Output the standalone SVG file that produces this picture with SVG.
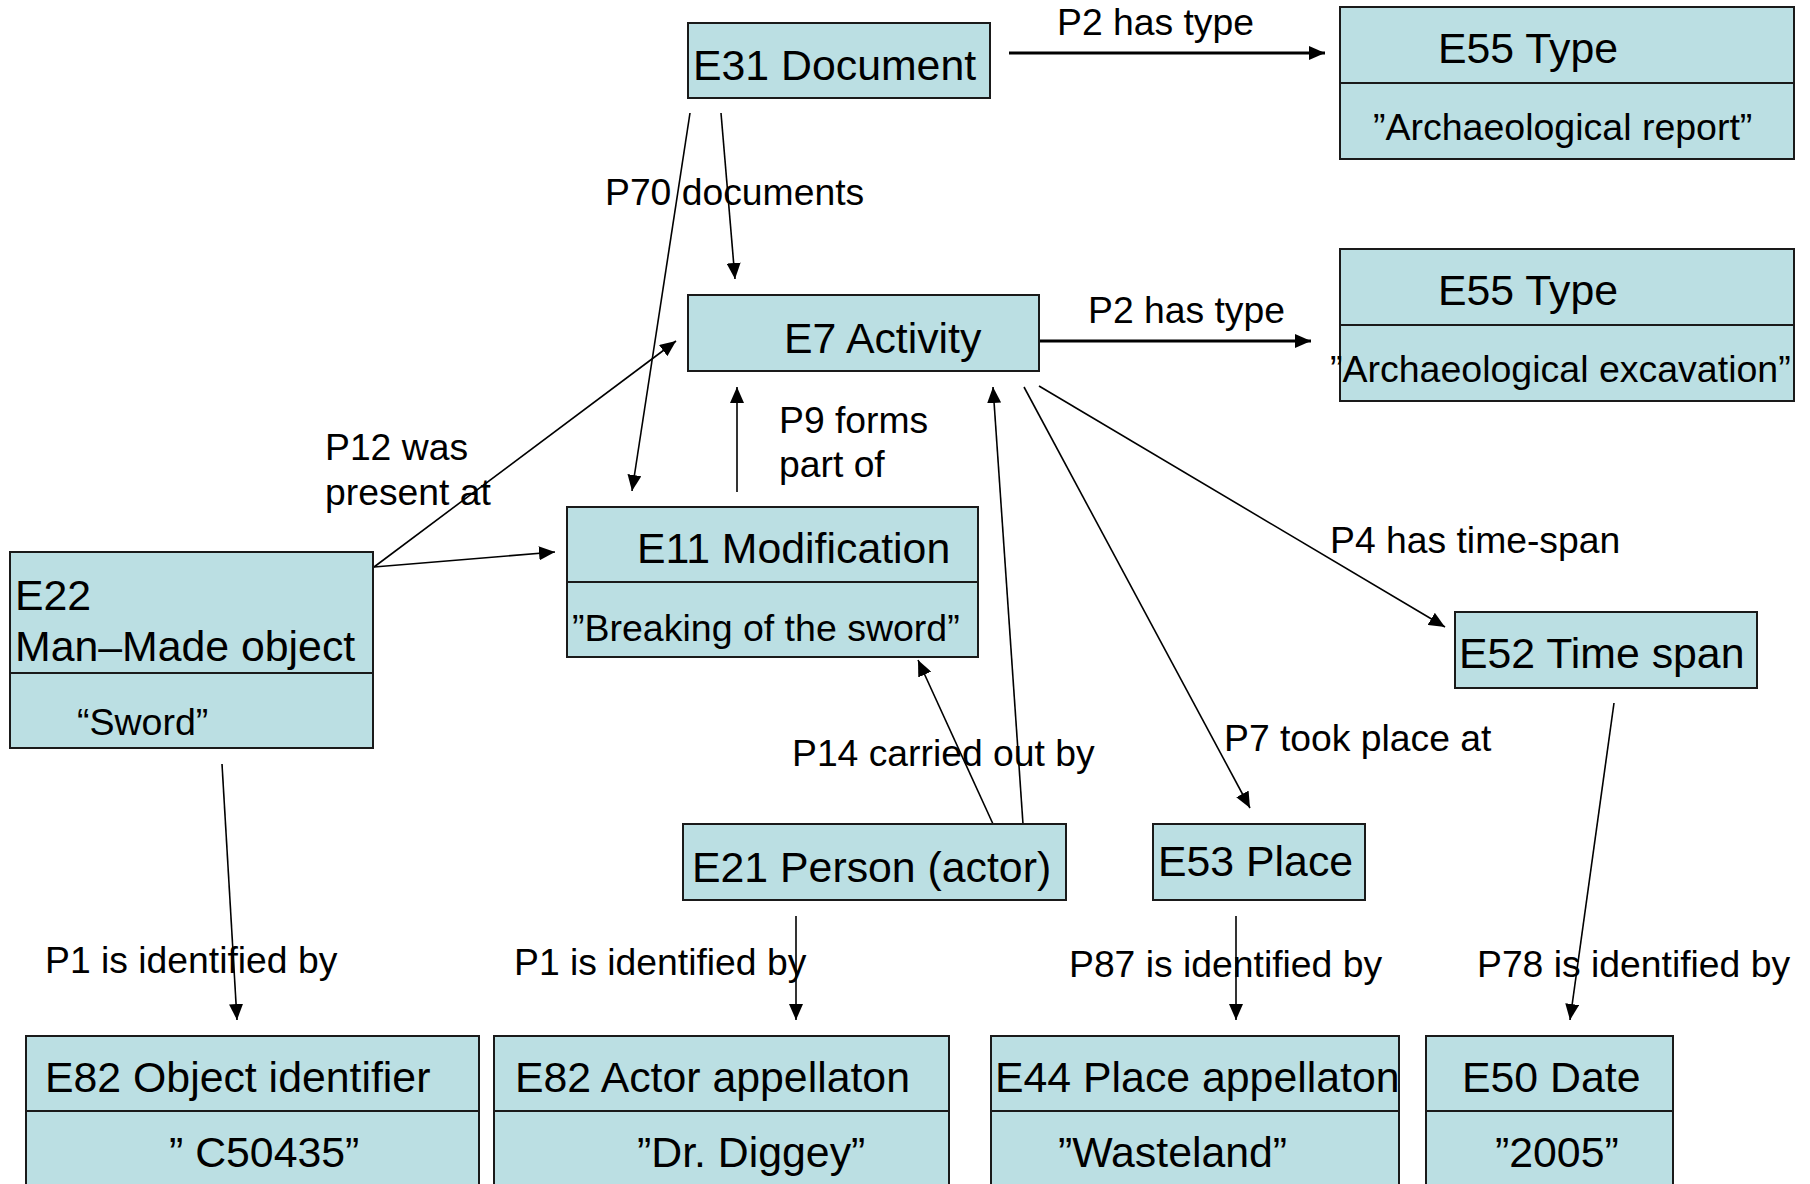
<svg xmlns="http://www.w3.org/2000/svg" width="1810" height="1184" viewBox="0 0 1810 1184">
  <style>
    .box { fill: #BBDFE3; stroke: #1a1a1a; stroke-width: 2; }
    .div { stroke: #1a1a1a; stroke-width: 2; }
    .t { font-family: "Liberation Sans", Arial, sans-serif; font-size: 42.8px; fill: #000; }
    .v { font-family: "Liberation Sans", Arial, sans-serif; font-size: 37.5px; fill: #000; }
    .lbl { font-family: "Liberation Sans", Arial, sans-serif; font-size: 37.3px; fill: #000; }
    .edge { stroke: #000; stroke-width: 1.6; fill: none; marker-end: url(#arrow); }
    .edge.thick { stroke-width: 3; }
  </style>
  <defs>
    <marker id="arrow" markerUnits="userSpaceOnUse" markerWidth="16" markerHeight="14" refX="16" refY="7" orient="auto">
      <path d="M0,0 L16,7 L0,14 z" fill="#000"/>
    </marker>
  </defs>

  <rect width="1810" height="1184" fill="#fff"/>

  <!-- connectors -->
  <g id="connectors">
    <line class="edge thick" x1="1009" y1="53" x2="1325" y2="53"/>
    <line class="edge thick" x1="1039" y1="341" x2="1311" y2="341"/>
    <line class="edge" x1="690" y1="113" x2="632" y2="491"/>
    <line class="edge" x1="721" y1="113" x2="735" y2="279"/>
    <line class="edge" x1="737" y1="492" x2="737" y2="387"/>
    <line class="edge" x1="374" y1="567" x2="676" y2="341"/>
    <line class="edge" x1="374" y1="567" x2="555" y2="552"/>
    <line class="edge" x1="993" y1="824" x2="918" y2="660"/>
    <line class="edge" x1="1023" y1="824" x2="993" y2="387"/>
    <line class="edge" x1="1024" y1="387" x2="1250" y2="808"/>
    <line class="edge" x1="1039" y1="386" x2="1445" y2="627"/>
    <line class="edge" x1="222" y1="764" x2="237" y2="1020"/>
    <line class="edge" x1="796" y1="916" x2="796" y2="1020"/>
    <line class="edge" x1="1236" y1="916" x2="1236" y2="1020"/>
    <line class="edge" x1="1614" y1="703" x2="1570" y2="1020"/>

    <text class="lbl" x="1057" y="35">P2 has type</text>
    <text class="lbl" x="1088" y="323">P2 has type</text>
    <text class="lbl" x="605" y="205">P70 documents</text>
    <text class="lbl" x="779" y="433">P9 forms</text>
    <text class="lbl" x="779" y="477">part of</text>
    <text class="lbl" x="325" y="460">P12 was</text>
    <text class="lbl" x="325" y="505">present at</text>
    <text class="lbl" x="792" y="766">P14 carried out by</text>
    <text class="lbl" x="1224" y="751">P7 took place at</text>
    <text class="lbl" x="1330" y="553">P4 has time-span</text>
    <text class="lbl" x="45" y="973">P1 is identified by</text>
    <text class="lbl" x="514" y="975">P1 is identified by</text>
    <text class="lbl" x="1069" y="977">P87 is identified by</text>
    <text class="lbl" x="1477" y="977">P78 is identified by</text>
  </g>

  <!-- nodes -->
  <g id="e31-document">
    <rect class="box" x="688" y="23" width="302" height="75"/>
    <text class="t" x="693" y="80">E31 Document</text>
  </g>

  <g id="e55-type-report">
    <rect class="box" x="1340" y="7" width="454" height="152"/>
    <line class="div" x1="1340" y1="83" x2="1794" y2="83"/>
    <text class="t" x="1438" y="63">E55 Type</text>
    <text class="v" x="1373" y="140">”Archaeological report”</text>
  </g>

  <g id="e55-type-excavation">
    <rect class="box" x="1340" y="249" width="454" height="152"/>
    <line class="div" x1="1340" y1="325" x2="1794" y2="325"/>
    <text class="t" x="1438" y="305">E55 Type</text>
    <text class="v" x="1330" y="382">”Archaeological excavation”</text>
  </g>

  <g id="e7-activity">
    <rect class="box" x="688" y="295" width="351" height="76"/>
    <text class="t" x="784" y="353">E7 Activity</text>
  </g>

  <g id="e11-modification">
    <rect class="box" x="567" y="507" width="411" height="150"/>
    <line class="div" x1="567" y1="582" x2="978" y2="582"/>
    <text class="t" x="637" y="563">E11 Modification</text>
    <text class="v" x="572" y="641">”Breaking of the sword”</text>
  </g>

  <g id="e22-man-made-object">
    <rect class="box" x="10" y="552" width="363" height="196"/>
    <line class="div" x1="10" y1="673" x2="373" y2="673"/>
    <text class="t" x="15" y="610">E22</text>
    <text class="t" x="15" y="661">Man–Made object</text>
    <text class="v" x="77" y="735">“Sword”</text>
  </g>

  <g id="e21-person">
    <rect class="box" x="683" y="824" width="383" height="76"/>
    <text class="t" x="692" y="882">E21 Person (actor)</text>
  </g>

  <g id="e53-place">
    <rect class="box" x="1153" y="824" width="212" height="76"/>
    <text class="t" x="1158" y="876">E53 Place</text>
  </g>

  <g id="e52-time-span">
    <rect class="box" x="1455" y="612" width="302" height="76"/>
    <text class="t" x="1459" y="668">E52 Time span</text>
  </g>

  <g id="e82-object-identifier">
    <rect class="box" x="26" y="1036" width="453" height="200"/>
    <line class="div" x1="26" y1="1111" x2="479" y2="1111"/>
    <text class="t" x="45" y="1092">E82 Object identifier</text>
    <text class="t" x="169" y="1167">” C50435”</text>
  </g>

  <g id="e82-actor-appellation">
    <rect class="box" x="494" y="1036" width="455" height="200"/>
    <line class="div" x1="494" y1="1111" x2="949" y2="1111"/>
    <text class="t" x="515" y="1092">E82 Actor appellaton</text>
    <text class="t" x="637" y="1167">”Dr. Diggey”</text>
  </g>

  <g id="e44-place-appellation">
    <rect class="box" x="991" y="1036" width="408" height="200"/>
    <line class="div" x1="991" y1="1111" x2="1399" y2="1111"/>
    <text class="t" x="995" y="1092">E44 Place appellaton</text>
    <text class="t" x="1058" y="1167">”Wasteland”</text>
  </g>

  <g id="e50-date">
    <rect class="box" x="1426" y="1036" width="247" height="200"/>
    <line class="div" x1="1426" y1="1111" x2="1673" y2="1111"/>
    <text class="t" x="1462" y="1092">E50 Date</text>
    <text class="t" x="1495" y="1167">”2005”</text>
  </g>
</svg>
